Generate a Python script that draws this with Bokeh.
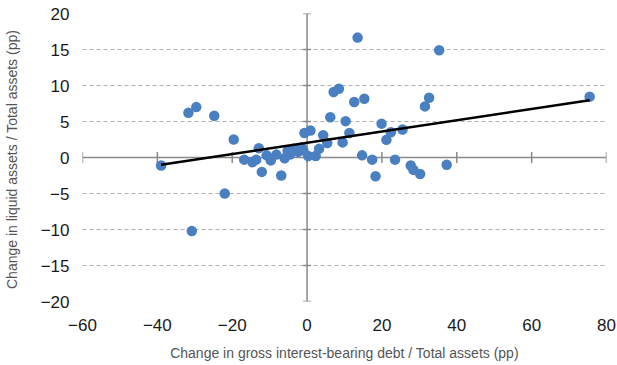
import numpy as np
from bokeh.plotting import figure
from bokeh.models import Span, FixedTicker
from bokeh.embed import file_html
from bokeh.resources import INLINE

# data
debt_change = [-39.0, -31.7, -29.6, -24.8, -19.6, -22.0, -30.8, -16.8, -14.6, -13.6,
               -12.9, -12.1, -10.8, -9.7, -8.2, -6.9, -6.0, -4.6, -3.6, -2.4,
               -1.5, -0.7, 0.9, 0.3, 2.3, 3.2, 4.3, 5.4, 6.2, 7.1,
               8.5, 10.3, 9.5, 11.3, 12.6, 15.3, 13.5, 14.7, 17.4, 18.3,
               19.9, 21.2, 22.4, 23.5, 25.5, 27.7, 28.4, 30.2, 31.5, 32.6,
               35.3, 37.3, 75.5, -5.2, -1.0]
liquid_change = [-1.1, 6.2, 7.0, 5.8, 2.5, -5.0, -10.2, -0.3, -0.65, -0.3,
                 1.3, -2.0, 0.3, -0.4, 0.4, -2.5, -0.1, 0.4, 1.2, 0.8,
                 1.4, 3.4, 3.75, 0.2, 0.2, 1.2, 3.1, 2.0, 5.6, 9.1,
                 9.55, 5.05, 2.1, 3.4, 7.7, 8.15, 16.65, 0.3, -0.3, -2.6,
                 4.7, 2.45, 3.5, -0.3, 3.9, -1.1, -1.7, -2.3, 7.1, 8.3,
                 14.9, -1.0, 8.45, 0.9, 1.0]
trend_x = [-39.0, 75.5]
trend_y = [-1.0, 7.95]

x_ticks = [-60, -40, -20, 0, 20, 40, 60, 80]
y_ticks = [-20, -15, -10, -5, 0, 5, 10, 15, 20]
grid_ticks = [-20, -15, -10, -5, 5, 10, 15, 20]
x_lim = (-60, 80)
y_lim = (-20, 20)

FONT = "Liberation Sans"

p = figure(frame_width=524, frame_height=288, x_range=x_lim, y_range=y_lim,
           output_backend="svg", toolbar_location=None,
           min_border_left=82, min_border_right=10, min_border_top=13,
           min_border_bottom=50)
p.outline_line_color = None
p.background_fill_color = "white"

p.xgrid.visible = False
p.ygrid.ticker = FixedTicker(ticks=grid_ticks)
p.ygrid.grid_line_color = "#b0b0b0"
p.ygrid.grid_line_dash = "4 3"
p.ygrid.grid_line_width = 1

for ax in (p.xaxis, p.yaxis):
    ax.axis_line_color = None
    ax.major_tick_line_color = None
    ax.minor_tick_line_color = None
    ax.major_tick_out = 0
    ax.major_tick_in = 0
    ax.minor_tick_out = 0
    ax.minor_tick_in = 0
    ax.major_label_text_font = FONT
    ax.major_label_text_font_size = "17px"
    ax.major_label_text_color = "#1a1a1a"
    ax.axis_label_text_font = FONT
    ax.axis_label_text_font_size = "14px"
    ax.axis_label_text_font_style = "normal"
    ax.axis_label_text_color = "#555555"

p.xaxis.ticker = FixedTicker(ticks=x_ticks)
p.yaxis.ticker = FixedTicker(ticks=y_ticks)
p.xaxis.major_label_standoff = 17
p.yaxis.major_label_standoff = 13
p.xaxis.axis_label = "Change in gross interest-bearing debt / Total assets (pp)"
p.yaxis.axis_label = "Change in liquid assets  / Total assets (pp)"
p.xaxis.axis_label_standoff = 11
p.yaxis.axis_label_standoff = 18

axis_col = "#8a8a8a"
p.add_layout(Span(location=0, dimension="width", line_color=axis_col,
                  line_width=1.5, level="underlay"))
p.add_layout(Span(location=0, dimension="height", line_color=axis_col,
                  line_width=1.5, level="underlay"))
# tick marks crossing the axes
p.scatter(x=x_ticks, y=[0] * len(x_ticks), marker="dash", size=11,
          angle=np.pi / 2, line_color=axis_col, line_width=1.5)
p.scatter(x=[0] * len(y_ticks), y=y_ticks, marker="dash", size=8,
          line_color=axis_col, line_width=1.5)

p.scatter(x=debt_change, y=liquid_change, size=10.5, fill_color="#4a7fc1",
          line_color="#4a7fc1", line_width=0)
p.line(x=trend_x, y=trend_y, line_color="black", line_width=2.5)

open("out.html", "w").write(file_html(p, INLINE))
